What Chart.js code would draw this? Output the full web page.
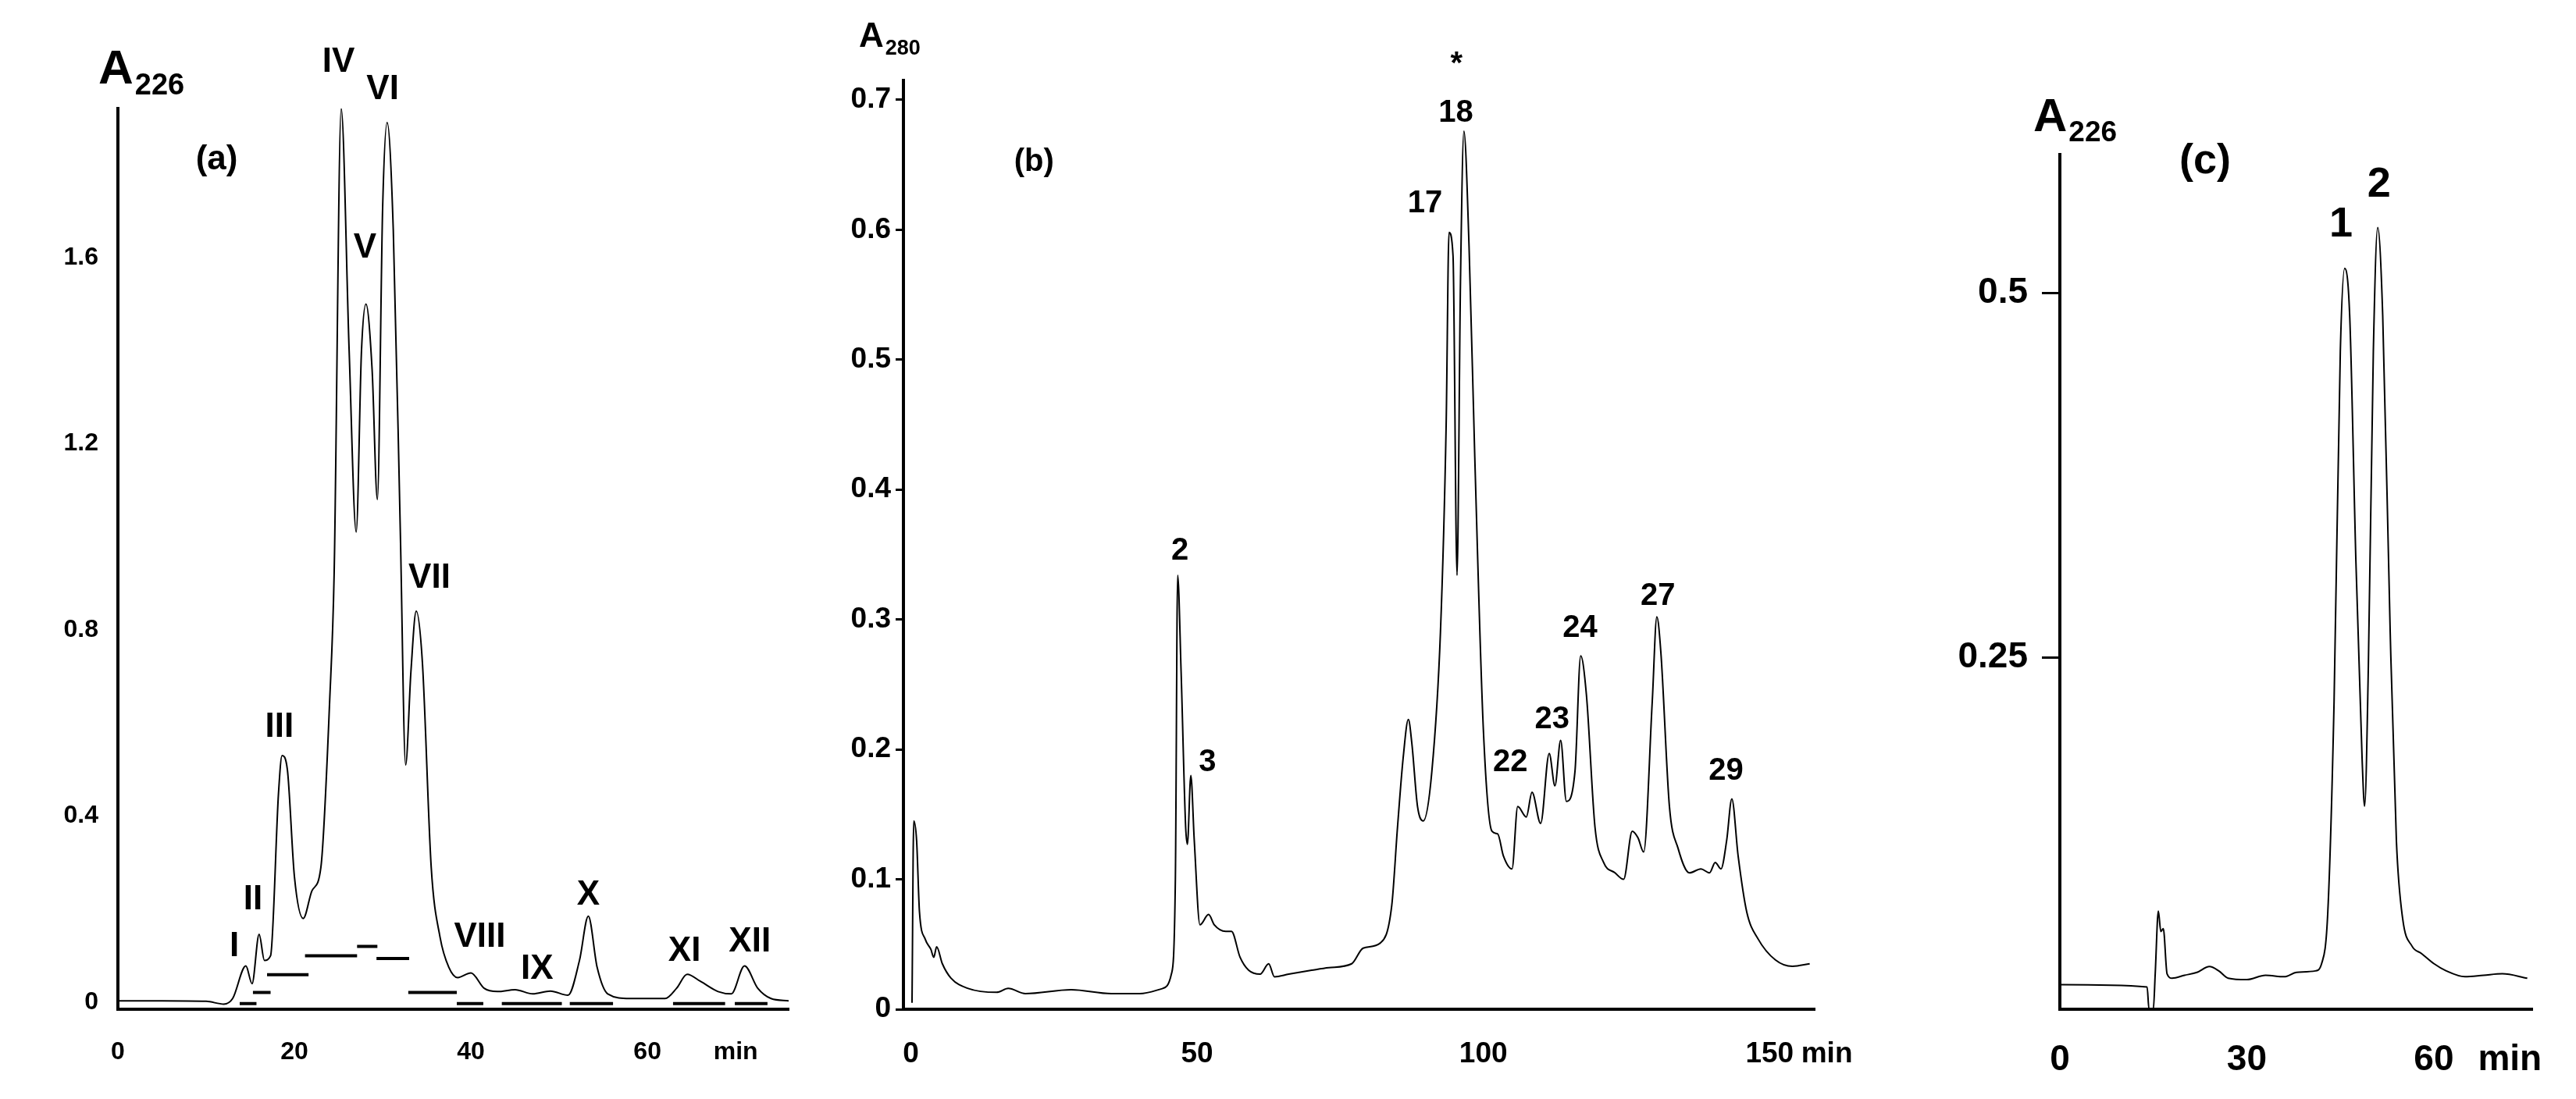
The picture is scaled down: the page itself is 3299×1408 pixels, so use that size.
<!DOCTYPE html>
<html>
<head>
<meta charset="utf-8">
<script src="https://cdn.jsdelivr.net/npm/chart.js@4/dist/chart.umd.min.js"></script>
<style>
  body { margin: 0; background: #fff; }
  #wrap { position: relative; width: 3299px; height: 1408px; }
  canvas { position: absolute; top: 0; }
</style>
</head>
<body>
<div id="wrap">
  <canvas id="ca" width="1050" height="1408" style="left:0px"></canvas>
  <canvas id="cb" width="1350" height="1408" style="left:1050px"></canvas>
  <canvas id="cc" width="899" height="1408" style="left:2400px"></canvas>
</div>
<script>
// panel (a): A226 trace
let aTime = [0, 5, 10, 12, 13, 14.5, 15.2, 16, 16.6, 17.3, 18.2, 18.6, 19.2, 20, 21, 22, 23, 24, 24.5, 25.3, 26.2, 27, 27.6, 28.1, 28.8, 29.4, 30, 30.5, 31.2, 32, 32.6, 33.2, 33.8, 34.5, 35.5, 36.5, 37.5, 38.5, 40, 41.5, 43, 45, 47, 49, 51, 52.3, 53.3, 54.3, 55.5, 58, 62, 63.3, 64.5, 66, 68, 69.5, 71, 72.5, 74, 76];
let aAbs = [0.003, 0.003, 0.002, -0.004, 0.008, 0.078, 0.04, 0.146, 0.09, 0.10, 0.45, 0.53, 0.50, 0.27, 0.18, 0.24, 0.29, 0.65, 0.92, 1.92, 1.40, 1.01, 1.40, 1.50, 1.36, 1.08, 1.71, 1.89, 1.66, 1.01, 0.51, 0.71, 0.84, 0.73, 0.29, 0.14, 0.075, 0.053, 0.063, 0.03, 0.023, 0.027, 0.018, 0.024, 0.015, 0.09, 0.185, 0.075, 0.018, 0.008, 0.008, 0.03, 0.06, 0.045, 0.023, 0.018, 0.078, 0.03, 0.008, 0.003];
// collected fractions (bars under the trace)
let aFracStart = [13.8, 15.3, 16.9, 21.2, 27.1, 29.3, 32.9, 38.4, 43.5, 51.2, 62.9, 69.9];
let aFracEnd = [15.7, 17.3, 21.6, 27.1, 29.4, 33.0, 38.4, 41.4, 50.3, 56.1, 68.8, 73.6];
let aFracLevel = [-0.003, 0.021, 0.059, 0.10, 0.12, 0.094, 0.021, -0.003, -0.003, -0.003, -0.003, -0.003];
let aPeakNames = ["I", "II", "III", "IV", "V", "VI", "VII", "VIII", "IX", "X", "XI", "XII"];
let aPeakX = [13.2, 15.3, 18.3, 25.0, 28.0, 30.0, 35.3, 41.0, 47.5, 53.3, 64.2, 71.6];
let aPeakY = [0.12, 0.22, 0.59, 2.02, 1.62, 1.96, 0.91, 0.14, 0.07, 0.23, 0.11, 0.13];
let aTicksX = [0, 20, 40, 60];
let aTicksY = [0, 0.4, 0.8, 1.2, 1.6];

// panel (b): A280 trace
let bTime = [0.2, 0.5, 1, 1.5, 2.5, 3.5, 4, 4.5, 5.5, 7, 10, 15, 17, 20, 28, 35, 40, 44, 45.5, 46.2, 46.6, 47.2, 48, 48.3, 48.9, 49.5, 50.5, 52, 53, 55, 56, 57.5, 59, 61, 62.5, 63.5, 66, 70, 73, 77, 79, 82, 84, 85, 86, 86.9, 87.5, 88.5, 89.5, 91, 92.5, 93.5, 94, 94.7, 95.4, 96, 96.6, 97.5, 98.5, 100, 101.5, 102.5, 103.5, 105, 106, 107.5, 108.5, 110, 111.5, 112.5, 113.5, 114.5, 116, 117, 118, 119.5, 121, 123, 124.5, 126, 127, 128, 129.5, 130.3, 131, 132.5, 134, 136, 138, 139.5, 140.5, 141.5, 142.5, 143.4, 144.5, 146, 148, 151, 154, 157];
let bAbs = [0.005, 0.145, 0.13, 0.075, 0.054, 0.046, 0.04, 0.048, 0.035, 0.024, 0.016, 0.013, 0.016, 0.012, 0.015, 0.012, 0.012, 0.016, 0.027, 0.10, 0.334, 0.26, 0.14, 0.127, 0.18, 0.13, 0.065, 0.073, 0.065, 0.06, 0.06, 0.04, 0.03, 0.027, 0.035, 0.025, 0.027, 0.03, 0.032, 0.035, 0.047, 0.051, 0.08, 0.14, 0.194, 0.223, 0.205, 0.156, 0.145, 0.183, 0.29, 0.45, 0.598, 0.58, 0.334, 0.56, 0.676, 0.587, 0.425, 0.215, 0.137, 0.135, 0.118, 0.108, 0.156, 0.148, 0.167, 0.143, 0.197, 0.172, 0.207, 0.16, 0.183, 0.272, 0.242, 0.14, 0.113, 0.105, 0.10, 0.137, 0.132, 0.121, 0.237, 0.302, 0.275, 0.156, 0.124, 0.105, 0.108, 0.105, 0.113, 0.108, 0.13, 0.162, 0.118, 0.075, 0.054, 0.038, 0.033, 0.035];
let bPeakNames = ["2", "3", "17", "18", "*", "22", "23", "24", "27", "29"];
let bPeakX = [47, 51.8, 89.8, 95.2, 95.3, 104.7, 112, 116.9, 130.5, 142.4];
let bPeakY = [0.353, 0.19, 0.62, 0.69, 0.727, 0.19, 0.223, 0.293, 0.318, 0.183];
let bTicksX = [0, 50, 100, 150];
let bTicksY = [0, 0.1, 0.2, 0.3, 0.4, 0.5, 0.6, 0.7];

// panel (c): A226 trace
let cTime = [0, 14, 14.3, 15, 15.3, 15.8, 16.2, 16.6, 17.2, 18, 20, 22, 24, 25.5, 27, 30, 33, 36, 38, 41, 42, 43, 44, 45, 45.7, 46.5, 47.5, 48.5, 48.9, 49.5, 50.3, 51, 51.8, 53, 54, 55, 56.5, 58, 60, 62, 65, 68, 71, 75];
let cAbs = [0.0255, 0.024, 0.0087, 0.009, 0.033, 0.076, 0.062, 0.064, 0.033, 0.03, 0.032, 0.034, 0.038, 0.035, 0.03, 0.029, 0.032, 0.031, 0.034, 0.035, 0.04, 0.076, 0.22, 0.46, 0.517, 0.485, 0.316, 0.18, 0.148, 0.244, 0.46, 0.545, 0.485, 0.268, 0.124, 0.071, 0.052, 0.047, 0.04, 0.035, 0.031, 0.032, 0.033, 0.03];
let cPeakNames = ["1", "2"];
let cPeakX = [45.1, 51.2];
let cPeakY = [0.547, 0.574];
let cTicksX = [0, 30, 60];
let cTicksY = [0.25, 0.5];

const FONT = "'Liberation Sans', Arial, sans-serif";
const toXY = (xs, ys) => xs.map((x, i) => ({ x: x, y: ys[i] }));

let fracData = [];
aFracStart.forEach((s, i) => {
  fracData.push({ x: s, y: aFracLevel[i] }, { x: aFracEnd[i], y: aFracLevel[i] }, { x: (s + aFracEnd[i]) / 2, y: null });
});

// draws peak names, panel letter and the A-subscript title
const notes = {
  id: "notes",
  afterDraw(chart, args, o) {
    const c = chart.ctx, xs = chart.scales.x, ys = chart.scales.y;
    c.save();
    c.fillStyle = "#000";
    c.textAlign = "center";
    c.textBaseline = "middle";
    c.font = "bold " + o.size + "px " + FONT;
    o.names.forEach((t, i) => {
      c.fillText(t, xs.getPixelForValue(o.px[i]), ys.getPixelForValue(o.py[i]));
    });
    c.fillText(o.panel[0], xs.getPixelForValue(o.panel[1]), ys.getPixelForValue(o.panel[2]));
    c.textAlign = "left";
    c.textBaseline = "alphabetic";
    c.font = "bold " + o.tsize + "px " + FONT;
    c.fillText("A", o.tx, o.ty);
    const w = c.measureText("A").width;
    c.font = "bold " + Math.round(o.tsize * 0.62) + "px " + FONT;
    c.fillText(o.sub, o.tx + w + 2, o.ty + o.tsize * 0.22);
    c.restore();
  }
};

function panel(id, cfg) {
  return new Chart(document.getElementById(id), {
    type: "line",
    data: { datasets: cfg.datasets },
    plugins: [notes],
    options: {
      responsive: false,
      animation: false,
      devicePixelRatio: 1,
      layout: { padding: { top: cfg.top, right: cfg.right, left: 0, bottom: 0 } },
      plugins: { legend: { display: false }, tooltip: { enabled: false }, notes: cfg.notes },
      elements: { point: { radius: 0 }, line: { borderColor: "#000", borderWidth: 2, cubicInterpolationMode: "monotone" } },
      scales: {
        x: {
          type: "linear", min: cfg.xmin, max: cfg.xmax,
          afterFit: (s) => { s.height = 115; },
          afterBuildTicks: (s) => { s.ticks = cfg.xt.map((v) => ({ value: v })); },
          border: { color: "#000", width: 4 },
          grid: { display: false },
          ticks: {
            color: "#000", padding: cfg.xpad, maxRotation: 0, autoSkip: false,
            font: { family: FONT, size: cfg.fs, weight: "bold" },
            callback: (v) => (v === cfg.minAt ? "min" : String(v))
          }
        },
        y: {
          min: cfg.ymin, max: cfg.ymax,
          afterFit: (s) => { s.width = cfg.yw; },
          afterBuildTicks: (s) => { s.ticks = cfg.yt.map((v) => ({ value: v })); },
          border: { color: "#000", width: 4 },
          grid: { display: cfg.tickLen > 0, drawOnChartArea: false, tickLength: cfg.tickLen, tickWidth: 3, color: "#000" },
          ticks: {
            color: "#000", padding: cfg.ypad, autoSkip: false,
            font: { family: FONT, size: cfg.fs, weight: "bold" },
            callback: (v) => String(v)
          }
        }
      }
    }
  });
}

panel("ca", {
  datasets: [
    { data: toXY(aTime, aAbs) },
    { data: fracData, borderWidth: 4, spanGaps: false, cubicInterpolationMode: "default", tension: 0 }
  ],
  top: 139, right: 40, yw: 151, xmin: 0, xmax: 76, ymin: -0.015, ymax: 1.92,
  xt: aTicksX.concat([70]), minAt: 70, yt: aTicksY, fs: 32, xpad: 28, ypad: 25, tickLen: 0,
  notes: { names: aPeakNames, px: aPeakX, py: aPeakY, size: 44, panel: ["(a)", 11.2, 1.81],
           tx: 126, ty: 107, tsize: 62, sub: "226" }
});

panel("cb", {
  datasets: [{ data: toXY(bTime, bAbs) }],
  top: 103, right: 40, yw: 107, xmin: -1.3, xmax: 158, ymin: 0, ymax: 0.715,
  xt: bTicksX.concat([160]), minAt: 160, yt: bTicksY, fs: 37, xpad: 28, ypad: 6, tickLen: 10,
  notes: { names: bPeakNames, px: bPeakX, py: bPeakY, size: 40, panel: ["(b)", 21.5, 0.652],
           tx: 50, ty: 60, tsize: 44, sub: "280" }
});

panel("cc", {
  datasets: [{ data: toXY(cTime, cAbs) }],
  top: 198, right: 56, yw: 238, xmin: 0, xmax: 75.8, ymin: 0.0087, ymax: 0.595,
  xt: cTicksX.concat([72.2]), minAt: 72.2, yt: cTicksY, fs: 46, xpad: 30, ypad: 18, tickLen: 23,
  notes: { names: cPeakNames, px: cPeakX, py: cPeakY, size: 54, panel: ["(c)", 23.3, 0.59],
           tx: 204, ty: 168, tsize: 60, sub: "226" }
});
</script>
</body>
</html>
